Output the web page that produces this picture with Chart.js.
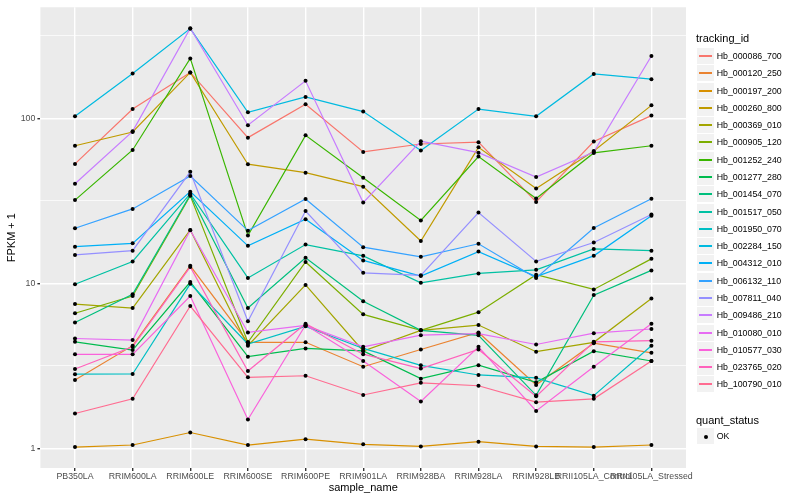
<!DOCTYPE html>
<html><head><meta charset="utf-8">
<script src="https://cdn.jsdelivr.net/npm/chart.js@4/dist/chart.umd.min.js"></script>
<style>
body{margin:0;background:#fff;}
#wrap{position:relative;width:800px;height:500px;font-family:"Liberation Sans",Arial,sans-serif;overflow:hidden;}
canvas{position:absolute;left:0;top:0;}
.lt{position:absolute;font-size:11px;line-height:11px;color:#000;white-space:nowrap;}
.lx{position:absolute;font-size:8.8px;line-height:8.8px;color:#000;white-space:nowrap;}
.key{position:absolute;width:17px;height:17px;background:#F2F2F2;box-sizing:border-box;border-bottom:1px solid #fff;}
.kl{position:absolute;left:2px;width:13px;top:7px;height:2px;}
.kd{position:absolute;left:6.5px;top:6.5px;width:4px;height:4px;border-radius:50%;background:#000;}
</style></head><body>
<div id="wrap"><canvas id="c" width="800" height="500"></canvas><div id="legend"></div></div>
<script>
// ---- data ----
const categories = ["PB350LA","RRIM600LA","RRIM600LE","RRIM600SE","RRIM600PE","RRIM901LA","RRIM928BA","RRIM928LA","RRIM928LB","RRII105LA_Control","RRII105LA_Stressed"];
const trackingIds = ["Hb_000086_700","Hb_000120_250","Hb_000197_200","Hb_000260_800","Hb_000369_010","Hb_000905_120","Hb_001252_240","Hb_001277_280","Hb_001454_070","Hb_001517_050","Hb_001950_070","Hb_002284_150","Hb_004312_010","Hb_006132_110","Hb_007811_040","Hb_009486_210","Hb_010080_010","Hb_010577_030","Hb_023765_020","Hb_100790_010"];
const seriesColors = ["#F8766D","#EA8331","#D89000","#C09B00","#A3A500","#7CAE00","#39B600","#00BB4E","#00BF7D","#00C1A3","#00BFC4","#00BAE0","#00B0F6","#35A2FF","#9590FF","#C77CFF","#E76BF3","#FA62DB","#FF62BC","#FF6C91"];

const hb_000086_700 = [53, 114, 190, 76.5, 122, 62.7, 70, 71.8, 31.2, 72.5, 104];
const hb_000120_250 = [2.6, 4.2, 12.8, 4.4, 4.4, 3.13, 3.98, 5.05, 2.43, 4.35, 3.8];
const hb_000197_200 = [1.02, 1.05, 1.25, 1.05, 1.14, 1.06, 1.03, 1.10, 1.03, 1.02, 1.05];
const hb_000260_800 = [68.3, 82.8, 190, 52.8, 46.9, 38.6, 18.1, 66.8, 37.6, 63.5, 120];
const hb_000369_010 = [7.5, 7.1, 21.1, 4.2, 9.8, 3.9, 5.2, 5.6, 3.86, 4.4, 8.1];
const hb_000905_120 = [6.6, 8.4, 34, 4.4, 13.5, 6.5, 5.2, 6.7, 11.3, 9.2, 14.1];
const hb_001252_240 = [32, 64.4, 231, 19.5, 79, 43.7, 24.1, 58.7, 32.7, 61.8, 68.3];
const hb_001277_280 = [4.43, 3.95, 10.2, 3.6, 4.04, 3.9, 2.65, 3.2, 2.52, 3.89, 3.39];
const hb_001454_070 = [5.8, 8.6, 34.5, 7.1, 14.3, 7.8, 5.2, 4.85, 2.1, 8.5, 12.0];
const hb_001517_050 = [9.9, 13.6, 35, 10.8, 17.2, 14.7, 10.1, 11.5, 12.1, 16.2, 15.8];
const hb_001950_070 = [2.82, 2.83, 9.95, 4.3, 5.5, 4.04, 3.19, 2.79, 2.68, 2.09, 4.19];
const hb_002284_150 = [103, 187, 350, 109, 135, 110, 64, 114, 103, 186, 173];
const hb_004312_010 = [16.7, 17.5, 36, 16.9, 24.5, 13.8, 11.1, 15.6, 11.0, 14.7, 25.7];
const hb_006132_110 = [21.6, 28.3, 44.8, 20.9, 32.5, 16.6, 14.5, 17.4, 10.8, 21.7, 32.6];
const hb_007811_040 = [14.9, 15.8, 47.5, 5.9, 27.5, 11.6, 11.2, 26.9, 13.6, 17.7, 26.2];
const hb_009486_210 = [40.2, 83.5, 352, 91, 169, 30.9, 72.8, 62, 44.1, 62.6, 239];
const hb_010080_010 = [4.64, 4.54, 21, 5.05, 5.58, 4.13, 4.86, 4.97, 4.27, 5.0, 5.3];
const hb_010577_030 = [3.72, 3.72, 8.4, 1.5, 5.6, 3.39, 1.93, 4.13, 1.69, 3.13, 5.7];
const hb_023765_020 = [3.03, 4.13, 12.6, 2.95, 5.7, 3.73, 3.05, 3.98, 2.07, 4.43, 4.5];
const hb_100790_010 = [1.63, 2.0, 7.3, 2.7, 2.76, 2.11, 2.5, 2.4, 1.91, 2.0, 3.39];

const seriesList = [hb_000086_700, hb_000120_250, hb_000197_200, hb_000260_800, hb_000369_010, hb_000905_120, hb_001252_240, hb_001277_280, hb_001454_070, hb_001517_050, hb_001950_070, hb_002284_150, hb_004312_010, hb_006132_110, hb_007811_040, hb_009486_210, hb_010080_010, hb_010577_030, hb_023765_020, hb_100790_010];

const yTicks = [1, 10, 100];
const yTickLabels = ["1", "10", "100"];
const yMinorTicks = [3.1623, 31.623, 316.23];
const quantStatus = ["OK"];

// ---- chart ----
const FONT = '"Liberation Sans", Arial, sans-serif';
const yMin = 0.762, yMax = 471.5;

const lineSets = seriesList.map((vals, k) => ({
  type: 'line',
  label: trackingIds[k],
  data: vals.map((v, i) => ({x: i, y: v})),
  borderColor: seriesColors[k],
  backgroundColor: seriesColors[k],
  borderWidth: 1.2,
  pointRadius: 0,
  pointHoverRadius: 0,
  fill: false,
  tension: 0,
  order: seriesList.length - k
}));
const pointSet = {
  type: 'scatter',
  label: quantStatus[0],
  data: seriesList.flatMap(vals => vals.map((v, i) => ({x: i, y: v}))),
  backgroundColor: '#000',
  borderWidth: 0,
  pointRadius: 2,
  pointHoverRadius: 2,
  order: 0
};

const panelBg = {
  id: 'panelBg',
  beforeDraw(chart) {
    const {ctx, chartArea: a} = chart;
    ctx.save();
    ctx.fillStyle = '#EBEBEB';
    ctx.fillRect(a.left, a.top, a.right - a.left, a.bottom - a.top);
    ctx.restore();
  }
};

const isMajor = v => yTicks.some(t => Math.abs(t - v) < 1e-9);

new Chart(document.getElementById('c'), {
  type: 'line',
  data: {datasets: [...lineSets, pointSet]},
  plugins: [panelBg],
  options: {
    responsive: false,
    animation: false,
    events: [],
    layout: {padding: {left: 0, right: 114, top: 5, bottom: 0}},
    plugins: {legend: {display: false}, tooltip: {enabled: false}},
    scales: {
      x: {
        type: 'linear',
        min: -0.6, max: 10.6,
        afterBuildTicks: s => { s.ticks = categories.map((c, i) => ({value: i})); },
        afterFit: s => { s.height = 32; },
        ticks: {
          autoSkip: false, maxRotation: 0, minRotation: 0, padding: 0,
          color: '#4D4D4D', font: {family: FONT, size: 8.8},
          callback: v => categories[v] !== undefined ? categories[v] : ''
        },
        grid: {color: '#FFFFFF', lineWidth: 1.4, tickLength: 3, tickColor: '#333333', tickWidth: 1.4},
        border: {display: false},
        title: {display: true, text: 'sample_name', color: '#000', font: {family: FONT, size: 11}, padding: {top: 0, bottom: 5.4}}
      },
      y: {
        type: 'logarithmic',
        min: yMin, max: yMax,
        bounds: 'data',
        afterBuildTicks: s => {
          s.ticks = [...yTicks, ...yMinorTicks].sort((a, b) => a - b).map(v => ({value: v}));
        },
        afterFit: s => { s.width = 40.4; },
        ticks: {
          padding: 2, color: '#4D4D4D', font: {family: FONT, size: 8.8},
          major: {enabled: false},
          callback: v => { const i = yTicks.findIndex(t => Math.abs(t - v) < 1e-9); return i >= 0 ? yTickLabels[i] : ''; }
        },
        grid: {
          color: '#FFFFFF',
          lineWidth: ctx => isMajor(ctx.tick.value) ? 1.4 : 0.7,
          tickColor: ctx => isMajor(ctx.tick.value) ? '#333333' : 'rgba(0,0,0,0)',
          tickWidth: 1.4,
          tickLength: 3
        },
        border: {display: false},
        title: {display: true, text: 'FPKM + 1', color: '#000', font: {family: FONT, size: 11}, padding: {top: 5.4, bottom: 0}}
      }
    }
  }
});

// ---- legend (HTML text) ----
const lg = document.getElementById('legend');
function add(cls, left, top, text) {
  const d = document.createElement('div');
  d.className = cls; d.style.left = left + 'px'; d.style.top = top + 'px';
  if (text !== undefined) d.textContent = text;
  lg.appendChild(d); return d;
}
add('lt', 696, 33, 'tracking_id');
const keyTop0 = 48.05, keyStep = 17.28;
trackingIds.forEach((id, k) => {
  const top = Math.round(keyTop0 + k * keyStep);
  const key = add('key', 697, top);
  const ln = document.createElement('div'); ln.className = 'kl'; ln.style.background = seriesColors[k]; key.appendChild(ln);
  add('lx', 716.7, top + 8.5 - 4.6, id);
});
add('lt', 696, 415, 'quant_status');
const okTop = 428;
const okKey = add('key', 697, okTop);
const dot = document.createElement('div'); dot.className = 'kd'; okKey.appendChild(dot);
add('lx', 716.7, okTop + 8.5 - 4.6, quantStatus[0]);
</script>
</body></html>
